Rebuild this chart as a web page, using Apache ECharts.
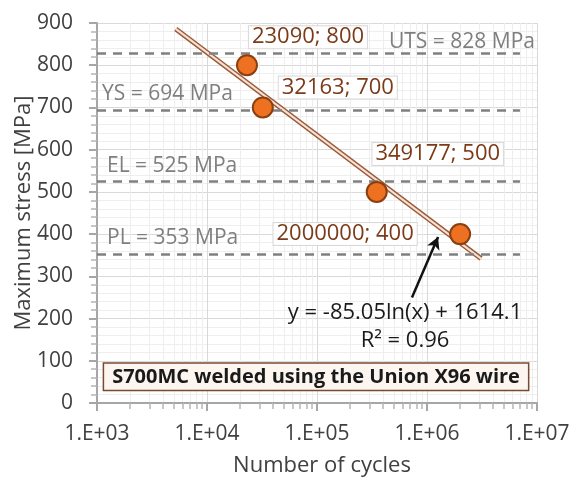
<!DOCTYPE html>
<html><head><meta charset="utf-8">
<script src="https://cdn.jsdelivr.net/npm/echarts@6/dist/echarts.min.js"></script>
<style>html,body{margin:0;padding:0;background:#fff}#c{width:573px;height:477px}</style>
</head><body><div id="c"></div>
<script>
// ---- data ----
const cycles = [23090, 32163, 349177, 2000000];
const stress = [800, 700, 500, 400];
const pointLabels = ['23090; 800', '32163; 700', '349177; 500', '2000000; 400'];
const refNames = ['UTS = 828 MPa', 'YS = 694 MPa', 'EL = 525 MPa', 'PL = 353 MPa'];
const refValues = [828, 694, 525, 353];
const refStartX = 1000;
const refEndX = 7000000;
const trendX = [5200, 3100000];
const trendY = [886, 342];
const arrowFrom = [730000, 250];
const arrowTo = [1260000, 393];
const equationLines = ['y = -85.05ln(x) + 1614.1', 'R² = 0.96'];
const equationAt = [631000, 181];
const boxText = 'S700MC welded using the Union X96 wire';
const boxAt = [98000, 62];
const xTickLabels = ['1.E+03', '1.E+04', '1.E+05', '1.E+06', '1.E+07'];
const yTickLabels = ['0', '100', '200', '300', '400', '500', '600', '700', '800', '900'];
const xTitle = 'Number of cycles';
const yTitle = 'Maximum stress [MPa]';

const FONT = '"Open Sans", sans-serif';
const labelOffsets = [[61, -28], [75, -20], [61, -38], [-115, 0]];
const refLabelDistance = [[-15, 1], [5, 5], [10, 5], [10, 5]];

const chart = echarts.init(document.getElementById('c'), null, {renderer: 'canvas'});

const refLineData = refValues.map((v, i) => [
  {coord: [refStartX, v], label: {
      show: true, formatter: refNames[i],
      position: i === 0 ? 'insideEndTop' : 'insideStartTop',
      distance: refLabelDistance[i],
      color: '#7f7f7f', fontSize: 21, fontFamily: FONT}},
  {coord: [refEndX, v]}
]);

const option = {
  animation: false,
  backgroundColor: '#ffffff',
  grid: {left: 97, right: 36, top: 23, bottom: 74, containLabel: false, outerBoundsMode: 'none'},
  xAxis: {
    type: 'log', logBase: 10, min: 1000, max: 10000000,
    name: xTitle, nameLocation: 'middle', nameGap: 52, nameMoveOverlap: false,
    nameTextStyle: {fontSize: 22, color: '#404040', fontFamily: FONT, padding: [0, 0, 0, 10]},
    axisLine: {show: true, lineStyle: {color: '#a6a6a6', width: 2}},
    axisTick: {show: true, inside: false, length: 8, lineStyle: {color: '#a6a6a6', width: 2}},
    minorTick: {show: true, splitNumber: 9, length: 6, lineStyle: {color: '#b5b5b5', width: 1.5}},
    splitLine: {show: true, lineStyle: {color: '#d9d9d9', width: 1}},
    minorSplitLine: {show: true, lineStyle: {color: '#eeeeee', width: 1}},
    axisLabel: {
      fontSize: 21, color: '#404040', fontFamily: FONT, margin: 21,
      formatter: v => xTickLabels[Math.round(Math.log10(v)) - 3]
    }
  },
  yAxis: {
    type: 'value', min: 0, max: 900, interval: 100,
    name: yTitle, nameLocation: 'middle', nameGap: 62, nameMoveOverlap: false,
    nameTextStyle: {fontSize: 22, color: '#404040', fontFamily: FONT},
    axisLine: {show: true, lineStyle: {color: '#a6a6a6', width: 2}},
    axisTick: {show: true, length: 8, lineStyle: {color: '#a6a6a6', width: 2}},
    minorTick: {show: true, splitNumber: 5, length: 6, lineStyle: {color: '#b5b5b5', width: 1.5}},
    splitLine: {show: true, lineStyle: {color: '#d9d9d9', width: 1}},
    minorSplitLine: {show: true, lineStyle: {color: '#eeeeee', width: 1}},
    axisLabel: {
      fontSize: 21, color: '#404040', fontFamily: FONT, margin: 24,
      formatter: v => yTickLabels[Math.round(v / 100)]
    }
  },
  series: [
    {
      type: 'line', name: 'refs', data: [], silent: true,
      markLine: {
        silent: true, symbol: ['none', 'none'],
        lineStyle: {type: [9, 7], color: '#808080', width: 2.5},
        data: refLineData
      }
    },
    {
      type: 'line', name: 'trendOuter', silent: true, symbol: 'none',
      data: trendX.map((x, i) => [x, trendY[i]]),
      lineStyle: {color: '#9a5a3a', width: 5, cap: 'butt'}, z: 3
    },
    {
      type: 'line', name: 'trendInner', silent: true, symbol: 'none',
      data: trendX.map((x, i) => [x, trendY[i]]),
      lineStyle: {color: '#f6e3d6', width: 2, cap: 'butt'}, z: 4
    },
    {
      type: 'scatter', name: 'points', z: 6,
      symbolSize: 20,
      itemStyle: {color: '#ed7120', borderColor: '#8a3f10', borderWidth: 2, opacity: 1},
      data: cycles.map((x, i) => ({
        value: [x, stress[i]],
        label: {
          show: true, formatter: pointLabels[i], position: 'inside',
          offset: labelOffsets[i],
          color: '#7b3a18', fontSize: 22, fontFamily: FONT,
          backgroundColor: 'rgba(255,255,255,0.92)', borderColor: '#d9d9d9', borderWidth: 1,
          padding: [1, 3, -1, 3]
        }
      }))
    },
    {
      type: 'line', name: 'annotations', data: [], silent: true, z: 7,
      markLine: {
        silent: true, symbol: ['none', 'arrow'], symbolSize: [10, 12],
        lineStyle: {type: 'solid', color: '#111111', width: 2.5},
        label: {show: false},
        data: [[{coord: arrowFrom}, {coord: arrowTo}]]
      },
      markPoint: {
        silent: true, symbol: 'rect', symbolSize: 0,
        data: [
          {coord: equationAt, label: {
            show: true, position: 'inside', formatter: equationLines.join('\n'),
            align: 'center', color: '#1a1a1a', fontSize: 22, lineHeight: 28, fontFamily: FONT}},
          {coord: boxAt, label: {
            show: true, position: 'inside', formatter: boxText,
            color: '#1a1a1a', fontSize: 20, fontWeight: 'bold', fontFamily: FONT,
            backgroundColor: '#fdf6f0', borderColor: '#7a4a30', borderWidth: 1.5,
            padding: [4, 8, 2, 8]}}
        ]
      }
    }
  ]
};
chart.setOption(option);
</script>
</body></html>
